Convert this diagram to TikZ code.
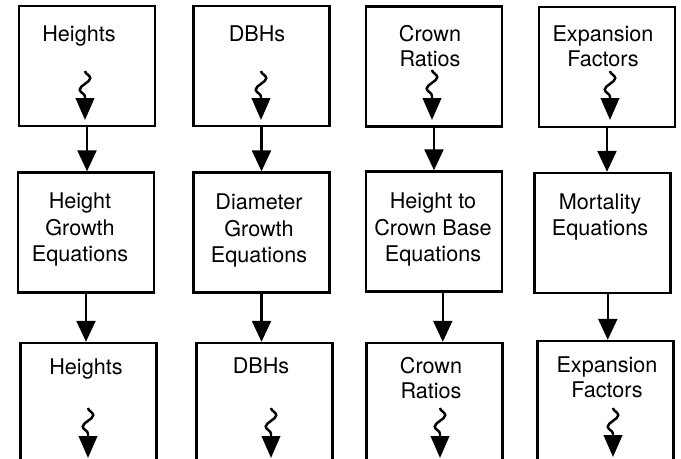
\documentclass[tikz,border=0pt]{standalone}
\usepackage{fontspec}
\setmainfont{TeX Gyre Heros}
\usetikzlibrary{arrows.meta}
\usetikzlibrary{decorations.pathmorphing}

\begin{document}
\begin{tikzpicture}[x=0.02cm, y=-0.02cm,
    box/.style={draw, line width=1.4pt, minimum width=2.72cm, minimum height=2.4cm, inner sep=0pt},
    txt/.style={font=\fontsize{12.3}{14.5}\selectfont, align=center, anchor=base, inner sep=0pt},
    eqtxt/.style={txt, font=\fontsize{12.3}{15.3}\selectfont},
    arr/.style={-{Triangle[length=0.42cm, width=0.38cm]}, line width=1.4pt},
    squig/.style={-{Triangle[length=0.44cm, width=0.37cm]}, line width=1.4pt,
        decorate, decoration={snake, amplitude=3pt, segment length=13pt, post length=0.44cm}}]
    \clip (0,0) rectangle (681,459);

    % Top row
    \node[box] (hgt1) at (87,66) {};
    \node[box] (dbh1) at (261.5,66) {};
    \node[box] (cr1) at (434,66.5) {};
    \node[box] (ef1) at (607,67) {};
    \node[txt] (hgt1t) at (79,42) {Heights};
    \node[txt] (dbh1t) at (257,42) {DBHs};
    \node[txt] (cr1t) at (430,67) {Crown\\Ratios};
    \node[txt] (ef1t) at (603,67) {Expansion\\Factors};

    % Equations
    \node[box] (hge) at (86,232.5) {};
    \node[box] (dge) at (261.5,232.5) {};
    \node[box] (cbe) at (434,231.5) {};
    \node[box] (mte) at (602.5,233) {};
    \node[eqtxt] (hget) at (80,262) {Height\\Growth\\Equations};
    \node[eqtxt] (dget) at (259,263) {Diameter\\Growth\\Equations};
    \node[eqtxt] (cbet) at (433,262) {Height to\\Crown Base\\Equations};
    \node[eqtxt] (mtet) at (600,236) {Mortality\\Equations};

    % Bottom row
    \node[box] (hgt2) at (88.5,403) {};
    \node[box] (dbh2) at (264.5,403) {};
    \node[box] (cr2) at (434.5,403) {};
    \node[box] (ef2) at (605.5,401) {};
    \node[txt] (hgt2t) at (86,375) {Heights};
    \node[txt] (dbh2t) at (261,374) {DBHs};
    \node[txt] (cr2t) at (431,399) {Crown\\Ratios};
    \node[txt] (ef2t) at (607,398) {Expansion\\Factors};

    % Squiggles
    \coordinate (q1a) at (85,71);  \coordinate (q1b) at (85,120);
    \coordinate (q2a) at (261,71); \coordinate (q2b) at (261,120);
    \coordinate (q3a) at (432,70); \coordinate (q3b) at (432,120);
    \coordinate (q4a) at (610,71); \coordinate (q4b) at (610,120);
    \coordinate (q5a) at (88,408);  \coordinate (q5b) at (88,458);
    \coordinate (q6a) at (271,408); \coordinate (q6b) at (271,458);
    \coordinate (q7a) at (440,408); \coordinate (q7b) at (440,458);
    \coordinate (q8a) at (613,408); \coordinate (q8b) at (613,457);
    \foreach \i in {1,...,8}
        \draw[squig] (q\i a) -- (q\i b);

    % Arrows
    \draw[arr] (hgt1.south) -- (hgt1.south |- hge.north);
    \draw[arr] (dbh1.south) -- (dbh1.south |- dge.north);
    \draw[arr] (cr1.south) -- (cr1.south |- cbe.north);
    \draw[arr] (ef1.south) -- (ef1.south |- mte.north);
    \draw[arr] (hge.south) -- (hge.south |- hgt2.north);
    \draw[arr] (dge.south) -- (dge.south |- dbh2.north);
    \draw[arr] ([xshift=5pt]cbe.south) -- ([xshift=5pt]cbe.south |- cr2.north);
    \draw[arr] ([xshift=3pt]mte.south) -- ([xshift=3pt]mte.south |- ef2.north);
\end{tikzpicture}
\end{document}
